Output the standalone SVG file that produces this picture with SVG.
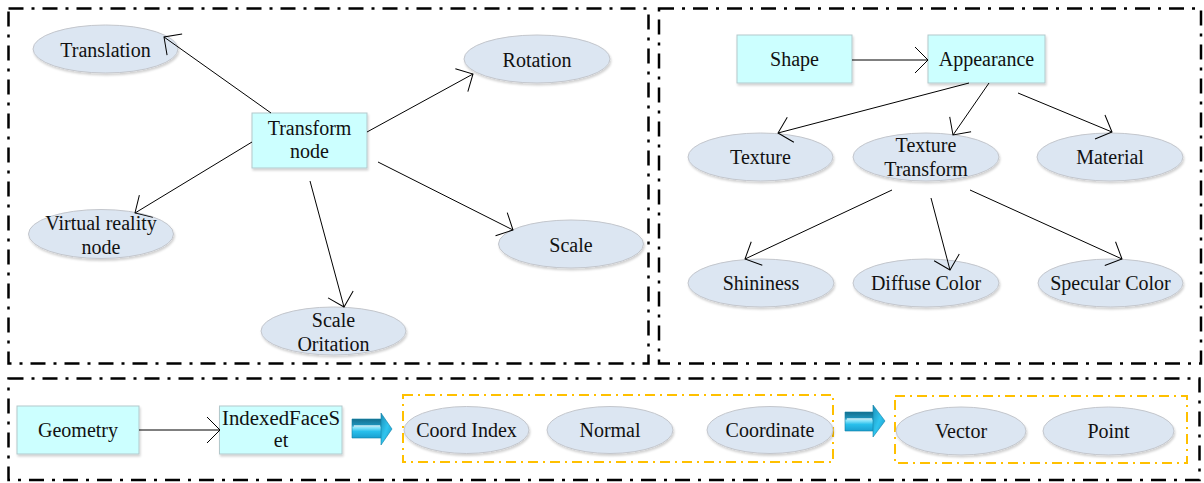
<svg xmlns="http://www.w3.org/2000/svg" width="1204" height="483" viewBox="0 0 1204 483">
  <style>
    .frame { fill: none; stroke: #000; stroke-width: 2.5; stroke-dasharray: 15 8 3 8; }
    .group { fill: none; stroke: #ffc000; stroke-width: 2; stroke-dasharray: 10 5 2 5; }
    .ell { fill: #dce6f2; stroke: #c3c6cc; stroke-width: 1; filter: url(#shadow); }
    .box { fill: #ccffff; stroke: #b3c9cc; stroke-width: 1; filter: url(#shadow); }
    text { font-family: 'Liberation Serif', 'DejaVu Serif', serif; font-size: 20px; fill: #111; text-anchor: middle; }
    .edge { fill: none; stroke: #000; stroke-width: 1; marker-end: url(#open); }
    .big { stroke: #0f7fa6; stroke-width: 0.6; stroke-linejoin: round; }
  </style>
  <defs>
    <filter id="shadow" x="-10%" y="-10%" width="125%" height="135%">
      <feDropShadow dx="1" dy="2" stdDeviation="1.2" flood-color="#000" flood-opacity="0.18"/>
    </filter>
    <marker id="open" markerUnits="userSpaceOnUse" viewBox="-15 -15 17 30" markerWidth="17" markerHeight="30" refX="0" refY="0" orient="auto" overflow="visible">
      <path d="M -13 -13 L 0 0 L -13 13" fill="none" stroke="#000" stroke-width="1"/>
    </marker>
    <linearGradient id="blueBody" x1="0" y1="0" x2="0" y2="1">
      <stop offset="0" stop-color="#156f8e"/>
      <stop offset="0.3" stop-color="#1e8fb6"/>
      <stop offset="0.45" stop-color="#8fe6fb"/>
      <stop offset="0.65" stop-color="#29c0ec"/>
      <stop offset="1" stop-color="#1a9fd0"/>
    </linearGradient>
    <linearGradient id="blueHead" x1="0" y1="0" x2="1" y2="1">
      <stop offset="0" stop-color="#1b8fb8"/>
      <stop offset="0.5" stop-color="#2fc4ee"/>
      <stop offset="1" stop-color="#1697c8"/>
    </linearGradient>
  </defs>

  <!-- panel frames -->
  <g id="frames">
    <rect class="frame" x="8.5" y="8.5" width="640" height="355"/>
    <rect class="frame" x="659" y="8.5" width="542" height="355"/>
    <rect class="frame" x="8.5" y="378.5" width="1191" height="101.5"/>
    <rect class="group" x="403" y="395" width="430" height="67"/>
    <rect class="group" x="895" y="396" width="292" height="67"/>
  </g>

  <!-- transform panel -->
  <g id="transform-node">
    <rect class="box" x="252" y="113" width="115" height="55"/>
    <text x="309.5" y="135">Transform</text>
    <text x="309.5" y="158">node</text>
  </g>
  <g id="translation">
    <ellipse class="ell" cx="105.5" cy="49" rx="72.5" ry="24"/>
    <text x="105.5" y="57">Translation</text>
  </g>
  <g id="rotation">
    <ellipse class="ell" cx="537" cy="59" rx="73" ry="24"/>
    <text x="537" y="67">Rotation</text>
  </g>
  <g id="virtual-reality-node">
    <ellipse class="ell" cx="101" cy="234" rx="72.5" ry="24.5"/>
    <text x="101" y="230">Virtual reality</text>
    <text x="101" y="254">node</text>
  </g>
  <g id="scale">
    <ellipse class="ell" cx="571" cy="244" rx="72.5" ry="24"/>
    <text x="571" y="252">Scale</text>
  </g>
  <g id="scale-oritation">
    <ellipse class="ell" cx="333.5" cy="331" rx="72.5" ry="24"/>
    <text x="333.5" y="327">Scale</text>
    <text x="333.5" y="351">Oritation</text>
  </g>

  <!-- appearance panel -->
  <g id="shape">
    <rect class="box" x="737" y="35" width="115" height="48"/>
    <text x="794.5" y="66">Shape</text>
  </g>
  <g id="appearance">
    <rect class="box" x="928" y="35" width="117" height="48"/>
    <text x="986.5" y="66">Appearance</text>
  </g>
  <g id="texture">
    <ellipse class="ell" cx="760.5" cy="157" rx="72.5" ry="24"/>
    <text x="760.5" y="164">Texture</text>
  </g>
  <g id="texture-transform">
    <ellipse class="ell" cx="926" cy="157" rx="73" ry="24"/>
    <text x="926" y="152">Texture</text>
    <text x="926" y="176">Transform</text>
  </g>
  <g id="material">
    <ellipse class="ell" cx="1110" cy="157" rx="73" ry="24"/>
    <text x="1110" y="164">Material</text>
  </g>
  <g id="shininess">
    <ellipse class="ell" cx="761" cy="283" rx="73" ry="24"/>
    <text x="761" y="290">Shininess</text>
  </g>
  <g id="diffuse-color">
    <ellipse class="ell" cx="926" cy="283" rx="73" ry="24"/>
    <text x="926" y="290">Diffuse Color</text>
  </g>
  <g id="specular-color">
    <ellipse class="ell" cx="1110.5" cy="283" rx="72.5" ry="24"/>
    <text x="1110.5" y="290">Specular Color</text>
  </g>

  <!-- geometry panel -->
  <g id="geometry">
    <rect class="box" x="17" y="406" width="122" height="48"/>
    <text x="78" y="437">Geometry</text>
  </g>
  <g id="indexed-face-set">
    <rect class="box" x="219.5" y="406" width="122.5" height="48"/>
    <text x="281" y="425" textLength="118" lengthAdjust="spacingAndGlyphs">IndexedFaceS</text>
    <text x="281" y="447">et</text>
  </g>
  <g id="coord-index">
    <ellipse class="ell" cx="466.5" cy="430" rx="62.5" ry="23.5"/>
    <text x="466.5" y="437">Coord Index</text>
  </g>
  <g id="normal">
    <ellipse class="ell" cx="610" cy="430" rx="63" ry="23.5"/>
    <text x="610" y="437">Normal</text>
  </g>
  <g id="coordinate">
    <ellipse class="ell" cx="770" cy="430" rx="63" ry="23.5"/>
    <text x="770" y="437">Coordinate</text>
  </g>
  <g id="vector">
    <ellipse class="ell" cx="961" cy="431" rx="65" ry="24"/>
    <text x="961" y="438">Vector</text>
  </g>
  <g id="point">
    <ellipse class="ell" cx="1108.5" cy="431" rx="65.5" ry="24"/>
    <text x="1108.5" y="438">Point</text>
  </g>

  <!-- connectors, drawn over the nodes so arrowheads stay visible -->
  <g id="connectors">
    <line class="edge" x1="271" y1="113" x2="164" y2="37"/>
    <line class="edge" x1="367" y1="132" x2="473" y2="74"/>
    <line class="edge" x1="252" y1="142" x2="135" y2="213"/>
    <line class="edge" x1="310" y1="181" x2="344" y2="307"/>
    <line class="edge" x1="378" y1="162" x2="513" y2="230"/>
    <line class="edge" x1="852" y1="60" x2="928" y2="60"/>
    <line class="edge" x1="969" y1="83" x2="778" y2="133"/>
    <line class="edge" x1="989" y1="83" x2="953" y2="135"/>
    <line class="edge" x1="1018" y1="93" x2="1112" y2="132"/>
    <line class="edge" x1="892" y1="190" x2="745" y2="259"/>
    <line class="edge" x1="931" y1="198" x2="950" y2="270"/>
    <line class="edge" x1="970" y1="190" x2="1122" y2="259"/>
    <line class="edge" x1="139" y1="430" x2="220" y2="430"/>
    <g id="flow1">
      <polygon class="big" fill="url(#blueBody)" points="352,419 382,419 382,438 352,438"/>
      <polygon class="big" fill="url(#blueHead)" points="381,413 392,429 381,445"/>
      <line x1="354" y1="426" x2="380" y2="426" stroke="#e8fbff" stroke-width="1.2"/>
    </g>
    <g id="flow2">
      <polygon class="big" fill="url(#blueBody)" points="845,412 874,412 874,431 845,431"/>
      <polygon class="big" fill="url(#blueHead)" points="873,405 885,421 873,437"/>
      <line x1="847" y1="419" x2="872" y2="419" stroke="#e8fbff" stroke-width="1.2"/>
    </g>
  </g>
</svg>
